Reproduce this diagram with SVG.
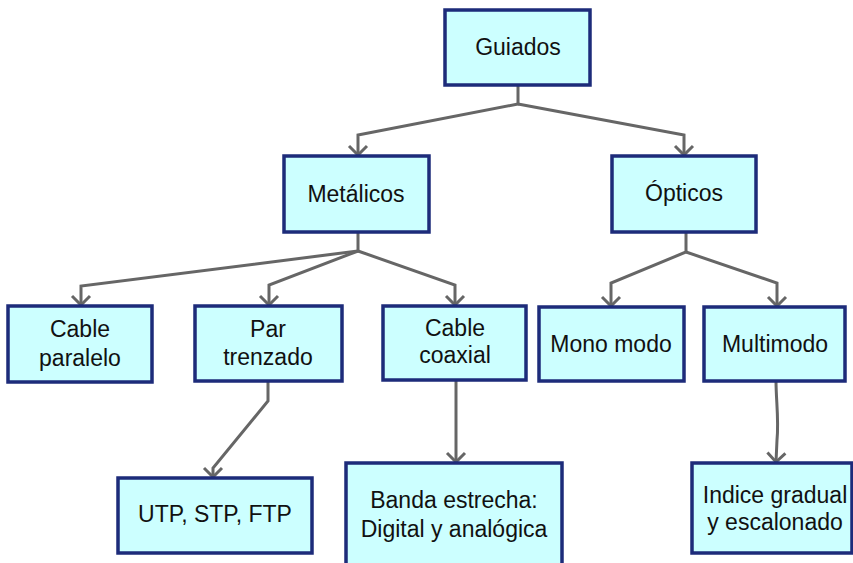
<svg xmlns="http://www.w3.org/2000/svg" width="853" height="563" viewBox="0 0 853 563">
  <defs>
    <marker id="chev" viewBox="-12 -12 14 24" markerWidth="14" markerHeight="24" refX="0" refY="0" orient="auto" markerUnits="userSpaceOnUse">
      <path d="M-9,-9 L0,0 L-9,9" fill="none" stroke="#666666" stroke-width="3" stroke-linejoin="miter"/>
    </marker>
    <style>
      .box { fill: #ccffff; stroke: #1d2b7a; stroke-width: 3.5; }
      .lbl { font-family: "Liberation Sans", Arial, sans-serif; font-size: 23px; fill: #111111; text-anchor: middle; }
      .con { fill: none; stroke: #666666; stroke-width: 3; stroke-linejoin: miter; marker-end: url(#chev); }
    </style>
  </defs>
  <rect width="853" height="563" fill="#ffffff"/>

  <!-- connectors -->
  <g id="connectors">
    <path class="con" d="M518,85 L518,104 L358,135 L358,155"/>
    <path class="con" d="M518,104 L684,135 L684,155"/>
    <path class="con" d="M358,232 L358,251 L81,286 L81,305"/>
    <path class="con" d="M358,251 L269,285 L269,305"/>
    <path class="con" d="M358,251 L455,285 L455,305"/>
    <path class="con" d="M686,232 L686,252 L611,283 L611,306"/>
    <path class="con" d="M686,252 L777,283 L777,306"/>
    <path class="con" d="M268,381 L268,401 L213,468 L213,477"/>
    <path class="con" d="M456,380 L456,462"/>
    <path class="con" d="M776,381 C776,400 779,420 777,440 L776,462"/>
  </g>

  <!-- nodes -->
  <g id="guiados">
    <rect class="box" x="445" y="10" width="145" height="75"/>
    <text class="lbl" x="518" y="55">Guiados</text>
  </g>
  <g id="metalicos">
    <rect class="box" x="284" y="156" width="145" height="76"/>
    <text class="lbl" x="356" y="202">Metálicos</text>
  </g>
  <g id="opticos">
    <rect class="box" x="612" y="156" width="144" height="76"/>
    <text class="lbl" x="684" y="201">Ópticos</text>
  </g>
  <g id="cable-paralelo">
    <rect class="box" x="8" y="306" width="144" height="76"/>
    <text class="lbl" x="80" y="337">Cable</text>
    <text class="lbl" x="80" y="366">paralelo</text>
  </g>
  <g id="par-trenzado">
    <rect class="box" x="195" y="306" width="147" height="75"/>
    <text class="lbl" x="268" y="337">Par</text>
    <text class="lbl" x="268" y="365">trenzado</text>
  </g>
  <g id="cable-coaxial">
    <rect class="box" x="383" y="306" width="143" height="74"/>
    <text class="lbl" x="455" y="336">Cable</text>
    <text class="lbl" x="455" y="363">coaxial</text>
  </g>
  <g id="mono-modo">
    <rect class="box" x="539" y="307" width="145" height="74"/>
    <text class="lbl" x="611" y="352">Mono modo</text>
  </g>
  <g id="multimodo">
    <rect class="box" x="704" y="307" width="141" height="74"/>
    <text class="lbl" x="775" y="352">Multimodo</text>
  </g>
  <g id="utp-stp-ftp">
    <rect class="box" x="118" y="478" width="194" height="75"/>
    <text class="lbl" x="215" y="522">UTP, STP, FTP</text>
  </g>
  <g id="banda-estrecha">
    <rect class="box" x="346" y="463" width="216" height="110"/>
    <text class="lbl" x="454" y="508">Banda estrecha:</text>
    <text class="lbl" x="454" y="537">Digital y analógica</text>
  </g>
  <g id="indice">
    <rect class="box" x="692" y="463" width="160" height="90"/>
    <text class="lbl" x="775" y="503">Indice gradual</text>
    <text class="lbl" x="775" y="530">y escalonado</text>
  </g>
</svg>
